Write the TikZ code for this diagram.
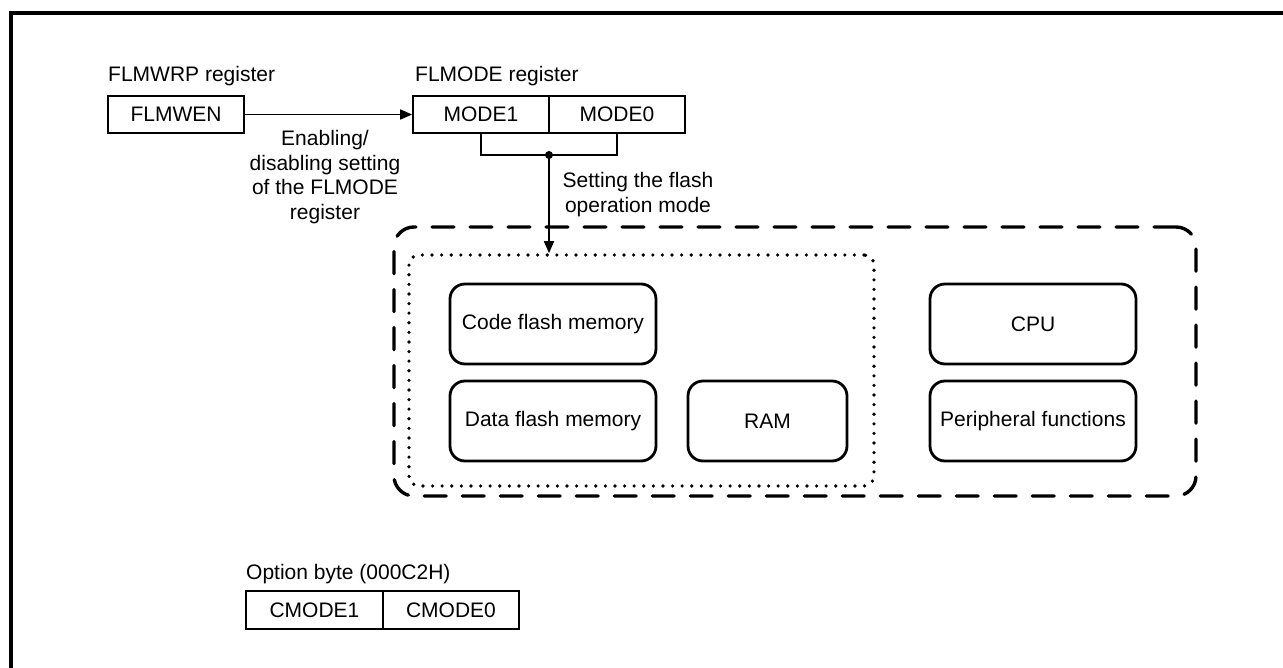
\documentclass[tikz,border=0pt]{standalone}
\usepackage{fontspec}
\setmainfont{Liberation Sans}
\usetikzlibrary{arrows.meta}
\begin{document}
\begin{tikzpicture}[x=1pt,y=-1pt,
  txt/.style={font=\fontsize{21}{24}\selectfont, inner sep=0pt},
  reg/.style={draw, line width=1.7pt, minimum height=37pt, inner sep=0pt, font=\fontsize{21}{24}\selectfont},
  rbox/.style={draw, line width=2.8pt, rounded corners=15pt, minimum width=206pt, minimum height=80pt, inner sep=0pt, font=\fontsize{21}{24}\selectfont},
  arr/.style={line width=1.7pt, -{Triangle[length=12pt,width=10pt]}},
  conn/.style={line width=1.7pt}
]
\useasboundingbox (0,0) rectangle (1283,668);
% frame
\draw[line width=3.3pt] (11,668) -- (11,13) -- (1283,13);

% register labels
\node[txt, anchor=base west] (lblwrp) at (108,82) {FLMWRP register};
\node[txt, anchor=base west] (lblmode) at (415,82) {FLMODE register};
\node[txt, anchor=base west] (lblopt) at (246,579) {Option byte (000C2H)};

% registers
\node[reg, minimum width=136pt] (flmwen) at (176,114.5) {FLMWEN};
\node[reg, minimum width=136pt] (mode1) at (481,114.5) {MODE1};
\node[reg, minimum width=136pt] (mode0) at (617,114.5) {MODE0};
\node[reg, minimum width=137pt, minimum height=38pt] (cmode1) at (314.5,610) {CMODE1};
\node[reg, minimum width=136pt, minimum height=38pt] (cmode0) at (451,610) {CMODE0};

% outer dashed and inner dotted areas
\node[draw, line width=3.4pt, rounded corners=20pt, line cap=round, dash pattern=on 22pt off 16pt,
      minimum width=802pt, minimum height=269pt] (area) at (795,361.5) {};
\node[draw, line width=3.6pt, rounded corners=10pt, line cap=round, dash pattern=on 0pt off 9.6pt,
      minimum width=465pt, minimum height=231pt] (dotbox) at (641.5,370.5) {};

% blocks
\node[rbox] (code) at (553,324) {Code flash memory};
\node[rbox] (data) at (553,421) {Data flash memory};
\node[rbox, minimum width=159pt] (ram) at (767.5,421) {RAM};
\node[rbox] (cpu) at (1033,324) {CPU};
\node[rbox] (peri) at (1033,421) {Peripheral functions};

% connectors
\draw[arr] (flmwen.east) -- (mode1.west);
\coordinate (br) at (549,155);
\draw[conn] (mode1.south) |- (br) -| (mode0.south);
\fill (br) circle (4pt);
\draw[arr] (br) -- (br |- dotbox.north);

% annotation texts
\node[txt, align=center, font=\fontsize{21}{24.5}\selectfont] (enable) at (325,177) {Enabling/\\disabling setting\\of the FLMODE\\register};
\node[txt, align=center, font=\fontsize{21}{25}\selectfont] (setmode) at (638,195) {Setting the flash\\operation mode};
\end{tikzpicture}
\end{document}
